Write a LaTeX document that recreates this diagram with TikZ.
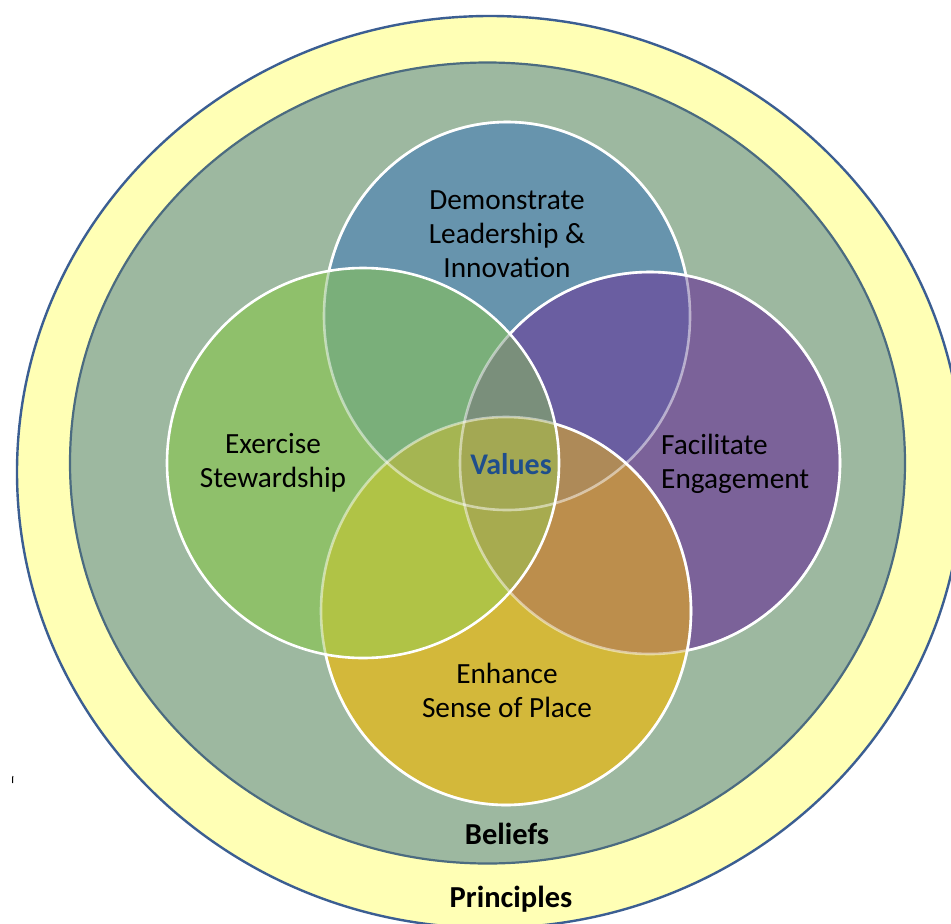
\documentclass[tikz,border=0pt]{standalone}
\usepackage{fontspec}
\setmainfont{Carlito}
\begin{document}
\begin{tikzpicture}[x=1pt,y=-1pt]
\definecolor{bgY}{HTML}{FFFFB5}
\definecolor{bgG}{HTML}{9DB8A0}
\definecolor{lineO}{HTML}{3B5E92}
\definecolor{lineI}{HTML}{4B6B80}
\definecolor{cT}{HTML}{6794AD}
\definecolor{cL}{HTML}{8FC06B}
\definecolor{cR}{HTML}{7B6299}
\definecolor{cB}{HTML}{D3B83A}
\definecolor{cTL}{HTML}{7AAF7A}
\definecolor{cTR}{HTML}{6A5EA1}
\definecolor{cLB}{HTML}{B0C346}
\definecolor{cRB}{HTML}{BC8E4C}
\definecolor{cTLR}{HTML}{7A8F7B}
\definecolor{cTLB}{HTML}{A5B552}
\definecolor{cTRB}{HTML}{AE8A58}
\definecolor{cLRB}{HTML}{A7AB4F}
\definecolor{cAll}{HTML}{A3A853}
\definecolor{valblue}{HTML}{1F4E8C}
\tikzset{
  wline/.style={draw=white, line width=2.6pt},
  faint/.style={draw=white, draw opacity=0.5, line width=2.6pt},
  lbl/.style={font=\fontsize{29.3}{34}\selectfont, align=center, text=black, inner sep=0pt},
  bold lbl/.style={font=\fontsize{30.5}{34}\selectfont\bfseries, inner sep=0pt}
}
\def\pT{(507,316) ellipse [x radius=183pt, y radius=194pt]}
\def\pL{(363,463) ellipse [x radius=196pt, y radius=195pt]}
\def\pR{(650,463) ellipse [x radius=190pt, y radius=191pt]}
\def\pB{(506,611) ellipse [x radius=185pt, y radius=194pt]}
\def\pBox{(-20,-20) rectangle (980,960)}
\useasboundingbox (0,0) rectangle (951,924);
\fill[white] (0,0) rectangle (951,924);
% outer rings
\path[fill=bgY, draw=lineO, line width=2.4pt] (490,472) ellipse [x radius=473pt, y radius=456pt];
\path[fill=bgG, draw=lineI, line width=2.2pt] (487.5,463) ellipse [x radius=417.5pt, y radius=400.5pt];
% single regions
\fill[cT] \pT;
\fill[cR] \pR;
\fill[cB] \pB;
\fill[cL] \pL;
% pairs
\begin{scope}\clip \pT; \fill[cTL] \pL; \end{scope}
\begin{scope}\clip \pT; \fill[cTR] \pR; \end{scope}
\begin{scope}\clip \pL; \fill[cLB] \pB; \end{scope}
\begin{scope}\clip \pR; \fill[cRB] \pB; \end{scope}
% triples
\begin{scope}\clip \pT; \clip \pL; \fill[cTLR] \pR; \end{scope}
\begin{scope}\clip \pT; \clip \pL; \fill[cTLB] \pB; \end{scope}
\begin{scope}\clip \pT; \clip \pR; \fill[cTRB] \pB; \end{scope}
\begin{scope}\clip \pL; \clip \pR; \fill[cLRB] \pB; \end{scope}
% all four
\begin{scope}\clip \pT; \clip \pL; \clip \pR; \fill[cAll] \pB; \end{scope}
% outlines, order T, R, B, L
\path[faint] \pT;
\begin{scope}[even odd rule]
  \clip \pBox \pR;
  \clip \pBox \pB;
  \clip \pBox \pL;
  \path[wline] \pT;
\end{scope}
\path[faint] \pR;
\begin{scope}[even odd rule]
  \clip \pBox \pB;
  \clip \pBox \pL;
  \path[wline] \pR;
\end{scope}
\path[faint] \pB;
\begin{scope}[even odd rule]
  \clip \pBox \pL;
  \path[wline] \pB;
\end{scope}
\path[wline] \pL;
% labels
\node[lbl] (lead) at (507,234) {Demonstrate\\Leadership \&\\Innovation};
\node[lbl] (stew) at (273,463) {Exercise\\Stewardship};
\node[lbl, align=left, anchor=west] (eng) at (661,464) {Facilitate\\Engagement};
\node[lbl] (place) at (507,690) {Enhance\\Sense of Place};
\node[bold lbl, font=\fontsize{30}{34}\selectfont\bfseries, text=valblue] (val) at (511,464) {Values};
\node[bold lbl, text=black] (bel) at (507,834) {Beliefs};
\node[bold lbl, text=black] (pri) at (511,899) {Principles};
% stray tick
\draw[black, line width=1pt] (12.8,776) -- (12.5,783);
\end{tikzpicture}
\end{document}
